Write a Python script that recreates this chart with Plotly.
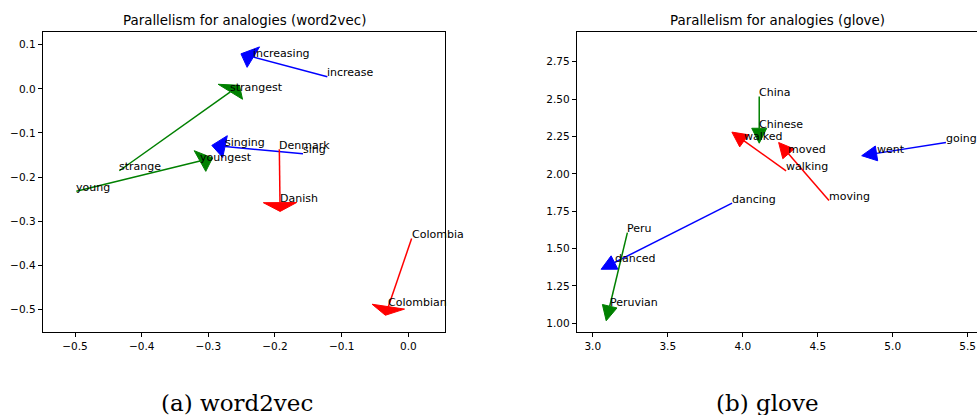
import numpy as np
import plotly.graph_objects as go

# ---------------- data: word2vec panel ----------------
w2v_src_words = ["increase", "sing", "strange", "young", "Denmark", "Colombia"]
w2v_src_x = [-0.1215, -0.158, -0.4335, -0.498, -0.1935, 0.005]
w2v_src_y = [0.0274, -0.1474, -0.1857, -0.2324, -0.137, -0.3395]
w2v_dst_words = ["increasing", "singing", "strangest", "youngest", "Danish", "Colombian"]
w2v_dst_x = [-0.2325, -0.275, -0.267, -0.3125, -0.1925, -0.030]
w2v_dst_y = [0.072, -0.131, -0.0066, -0.1637, -0.258, -0.494]
w2v_colors = ["#0000ff", "#0000ff", "#008000", "#008000", "#ff0000", "#ff0000"]

# ---------------- data: glove panel ----------------
glv_src_words = ["going", "dancing", "China", "Peru", "walking", "moving"]
glv_src_x = [5.355, 3.929, 4.110, 3.231, 4.289, 4.575]
glv_src_y = [2.210, 1.804, 2.518, 1.607, 2.020, 1.8225]
glv_dst_words = ["went", "danced", "Chinese", "Peruvian", "walked", "moved"]
glv_dst_x = [4.892, 3.145, 4.110, 3.113, 4.009, 4.305]
glv_dst_y = [2.137, 1.407, 2.305, 1.1145, 2.221, 2.134]
glv_colors = ["#0000ff", "#0000ff", "#008000", "#008000", "#ff0000", "#ff0000"]

# tick labels
w2v_xticks = [-0.5, -0.4, -0.3, -0.2, -0.1, 0.0]
w2v_yticks = [0.1, 0.0, -0.1, -0.2, -0.3, -0.4, -0.5]
glv_xticks = [3.0, 3.5, 4.0, 4.5, 5.0, 5.5]
glv_yticks = [1.00, 1.25, 1.50, 1.75, 2.00, 2.25, 2.50, 2.75]

titles = ["Parallelism for analogies (word2vec)", "Parallelism for analogies (glove)"]
captions = ["(a) word2vec", "(b) glove"]

# ---------------- style ----------------
W, H = 977, 415
FONT = "DejaVu Sans"


def fmt(v, nd):
    s = f"{abs(v):.{nd}f}"
    return ("\u2212" + s) if v < 0 else s


fig = go.Figure()


def add_panel(sx, sy, dx, dy, sw, dw, cols, hw, hl, xa, ya):
    for i in range(len(sx)):
        x0, y0, x1, y1 = sx[i], sy[i], dx[i], dy[i]
        c = cols[i]
        fig.add_trace(go.Scatter(x=[x0, x1], y=[y0, y1], mode="lines",
                                 line=dict(color=c, width=1.5), xaxis=xa, yaxis=ya,
                                 hoverinfo="skip", showlegend=False))
        v = np.array([x1 - x0, y1 - y0])
        u = v / np.linalg.norm(v)
        p = np.array([-u[1], u[0]])
        end = np.array([x1, y1])
        b1 = end + hw / 2 * p
        b2 = end - hw / 2 * p
        tip = end + hl * u
        poly = np.array([b1, tip, b2, b1])
        fig.add_trace(go.Scatter(x=poly[:, 0], y=poly[:, 1], mode="lines", fill="toself",
                                 fillcolor=c, line=dict(color=c, width=1),
                                 xaxis=xa, yaxis=ya, hoverinfo="skip", showlegend=False))
    for words, xs, ys in ((sw, sx, sy), (dw, dx, dy)):
        for w, x, y in zip(words, xs, ys):
            fig.add_annotation(x=x, y=y, xref=xa, yref=ya, text=w, showarrow=False,
                               xanchor="left", yanchor="bottom", xshift=-2, yshift=-4.6,
                               font=dict(family=FONT, size=11, color="#000"))


add_panel(w2v_src_x, w2v_src_y, w2v_dst_x, w2v_dst_y, w2v_src_words, w2v_dst_words,
          w2v_colors, 0.05, 0.02, "x", "y")
add_panel(glv_src_x, glv_src_y, glv_dst_x, glv_dst_y, glv_src_words, glv_dst_words,
          glv_colors, 0.1, 0.1, "x2", "y2")

axis_common = dict(showgrid=False, zeroline=False, showline=True, linecolor="#000",
                   linewidth=1, ticks="outside", ticklen=4, tickwidth=1, tickcolor="#000",
                   tickfont=dict(family=FONT, size=10.5, color="#000"))

left_dom = [42.7 / W, 445.3 / W]
right_dom = [576.7 / W, 1.0]
y_dom = [1 - 332 / H, 1 - 32 / H]

fig.update_layout(
    width=W, height=H, margin=dict(l=0, r=0, t=0, b=0),
    paper_bgcolor="white", plot_bgcolor="white",
    xaxis=dict(domain=left_dom, range=[-0.5485, 0.0555], anchor="y", mirror=True,
               tickvals=w2v_xticks, ticktext=[fmt(v, 1) for v in w2v_xticks], **axis_common),
    yaxis=dict(domain=y_dom, range=[-0.5515, 0.129], anchor="x", mirror=True,
               tickvals=w2v_yticks, ticktext=[fmt(v, 1) for v in w2v_yticks], **axis_common),
    xaxis2=dict(domain=right_dom, range=[2.893, 5.562], anchor="y2", mirror=True,
                tickvals=glv_xticks, ticktext=[fmt(v, 1) for v in glv_xticks], **axis_common),
    yaxis2=dict(domain=y_dom, range=[0.942, 2.949], anchor="x2", mirror=False,
                tickvals=glv_yticks, ticktext=[fmt(v, 2) for v in glv_yticks], **axis_common),
)

# titles
for t, dom in zip(titles, (left_dom, [576.7 / W, (576.7 + 402.3) / W])):
    fig.add_annotation(x=(dom[0] + dom[1]) / 2, y=1 - 25 / H, xref="paper", yref="paper",
                       text=t, showarrow=False, xanchor="center", yanchor="bottom",
                       yshift=-5.2, font=dict(family=FONT, size=13.4, color="#000"))

# captions
for cap, cx in zip(captions, (237 / W, 767 / W)):
    fig.add_annotation(x=cx, y=0, xref="paper", yref="paper", text=cap, showarrow=False,
                       xanchor="center", yanchor="bottom", yshift=-3.4,
                       font=dict(family="DejaVu Serif", size=23, color="#000"))

fig.write_html("out.html")
